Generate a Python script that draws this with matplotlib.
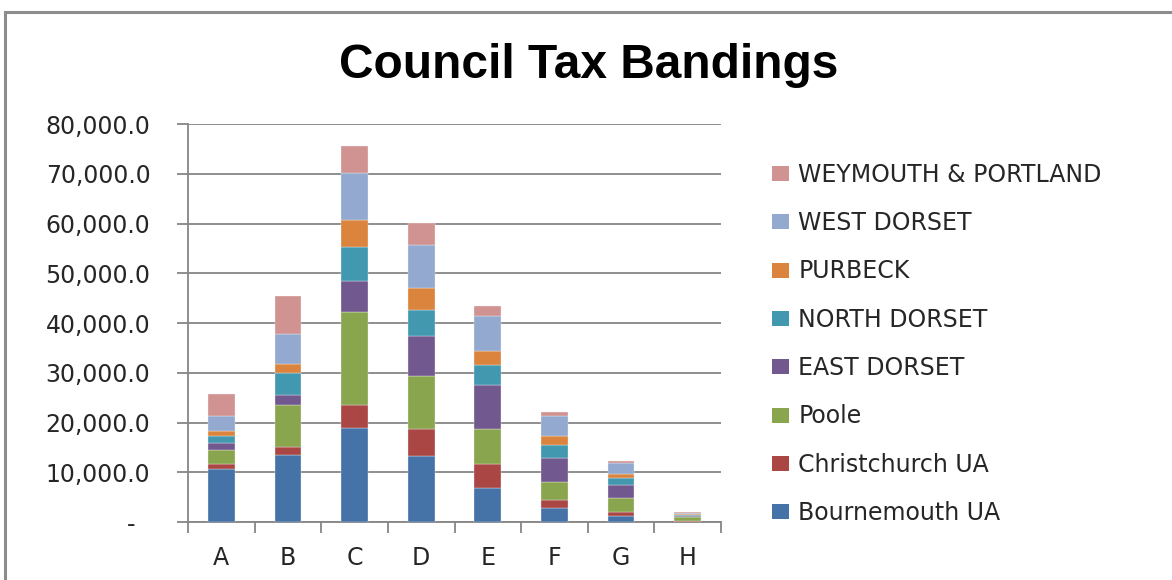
import matplotlib
matplotlib.use("Agg")
import matplotlib.pyplot as plt
from matplotlib.patches import Rectangle, Patch
from matplotlib.ticker import FuncFormatter, FixedLocator
import numpy as np

bands = ["A", "B", "C", "D", "E", "F", "G", "H"]
councils = ["Bournemouth UA", "Christchurch UA", "Poole", "EAST DORSET",
            "NORTH DORSET", "PURBECK", "WEST DORSET", "WEYMOUTH & PORTLAND"]

bournemouth = [10600, 13400, 18890, 13190, 6870, 2870, 1270, 100]
christchurch = [1070, 1600, 4550, 5430, 4730, 1530, 800, 50]
poole = [2820, 8440, 18820, 10720, 7130, 3600, 2800, 850]
east_dorset = [1330, 2080, 6230, 8030, 8740, 4870, 2660, 250]
north_dorset = [1550, 4350, 6700, 5230, 4130, 2530, 1270, 200]
purbeck = [940, 1880, 5430, 4350, 2800, 1870, 930, 100]
west_dorset = [3080, 6090, 9440, 8780, 6930, 4000, 2070, 300]
weymouth = [4420, 7570, 5490, 4350, 2140, 800, 530, 150]

series = [bournemouth, christchurch, poole, east_dorset,
          north_dorset, purbeck, west_dorset, weymouth]
colors = ["#4572A7", "#AA4643", "#89A54E", "#71588F",
          "#4198AF", "#DB843D", "#93A9CF", "#D19392"]

fig = plt.figure(figsize=(11.72, 5.8), dpi=100)
ax = fig.add_axes([0.1604, 0.1, 0.4548, 0.6862])

x = np.arange(len(bands))
bottom = np.zeros(len(bands))
for vals, col, name in zip(series, colors, councils):
    ax.bar(x, vals, width=0.4, bottom=bottom, color=col, edgecolor="#f4f4f4",
           linewidth=0.25, label=name, zorder=3)
    bottom += np.array(vals)

ax.set_xlim(-0.5, len(bands) - 0.5)
ax.set_ylim(0, 80000)
ax.set_yticks(np.arange(0, 80001, 10000))
ax.yaxis.set_major_formatter(FuncFormatter(
    lambda v, p: "-  " if v == 0 else "{:,.1f}".format(v)))
ax.grid(axis="y", color="#868686", linewidth=1.3, zorder=0)

ax.set_xticks(x)
ax.set_xticklabels(bands)
ax.xaxis.set_minor_locator(FixedLocator(np.arange(-0.5, len(bands), 1.0)))
ax.tick_params(axis="x", which="major", length=0, pad=17, labelsize=17,
               colors="#262626")
ax.tick_params(axis="x", which="minor", length=8, width=1.3, color="#868686",
               direction="out")
ax.tick_params(axis="y", length=8, width=1.3, color="#868686", pad=19,
               labelsize=17, labelcolor="#262626")

for s in ["top", "right"]:
    ax.spines[s].set_visible(False)
for s in ["left", "bottom"]:
    ax.spines[s].set_color("#868686")
    ax.spines[s].set_linewidth(1.3)

handles = [Patch(facecolor=c) for c in colors][::-1]
fig.legend(handles, councils[::-1], loc="upper left",
           bbox_to_anchor=(760 / 1172, 1 - 151 / 580), frameon=False,
           fontsize=17, labelspacing=1.03, handlelength=0.72,
           handleheight=0.6, handletextpad=0.4, borderpad=0,
           labelcolor="#262626")

fig.text(589 / 1172, 1 - 66 / 580, "Council Tax Bandings", ha="center",
         va="center", fontsize=34.5, fontweight="bold",
         family=["Liberation Sans", "DejaVu Sans"])

# outer chart frame
fig.patches.append(Rectangle((5 / 1172, -0.05), 1.2, 1 - 12 / 580 + 0.05,
                             transform=fig.transFigure, fill=False,
                             edgecolor="#8c8c8c", linewidth=2.2))

fig.savefig("out.png", dpi=100)
